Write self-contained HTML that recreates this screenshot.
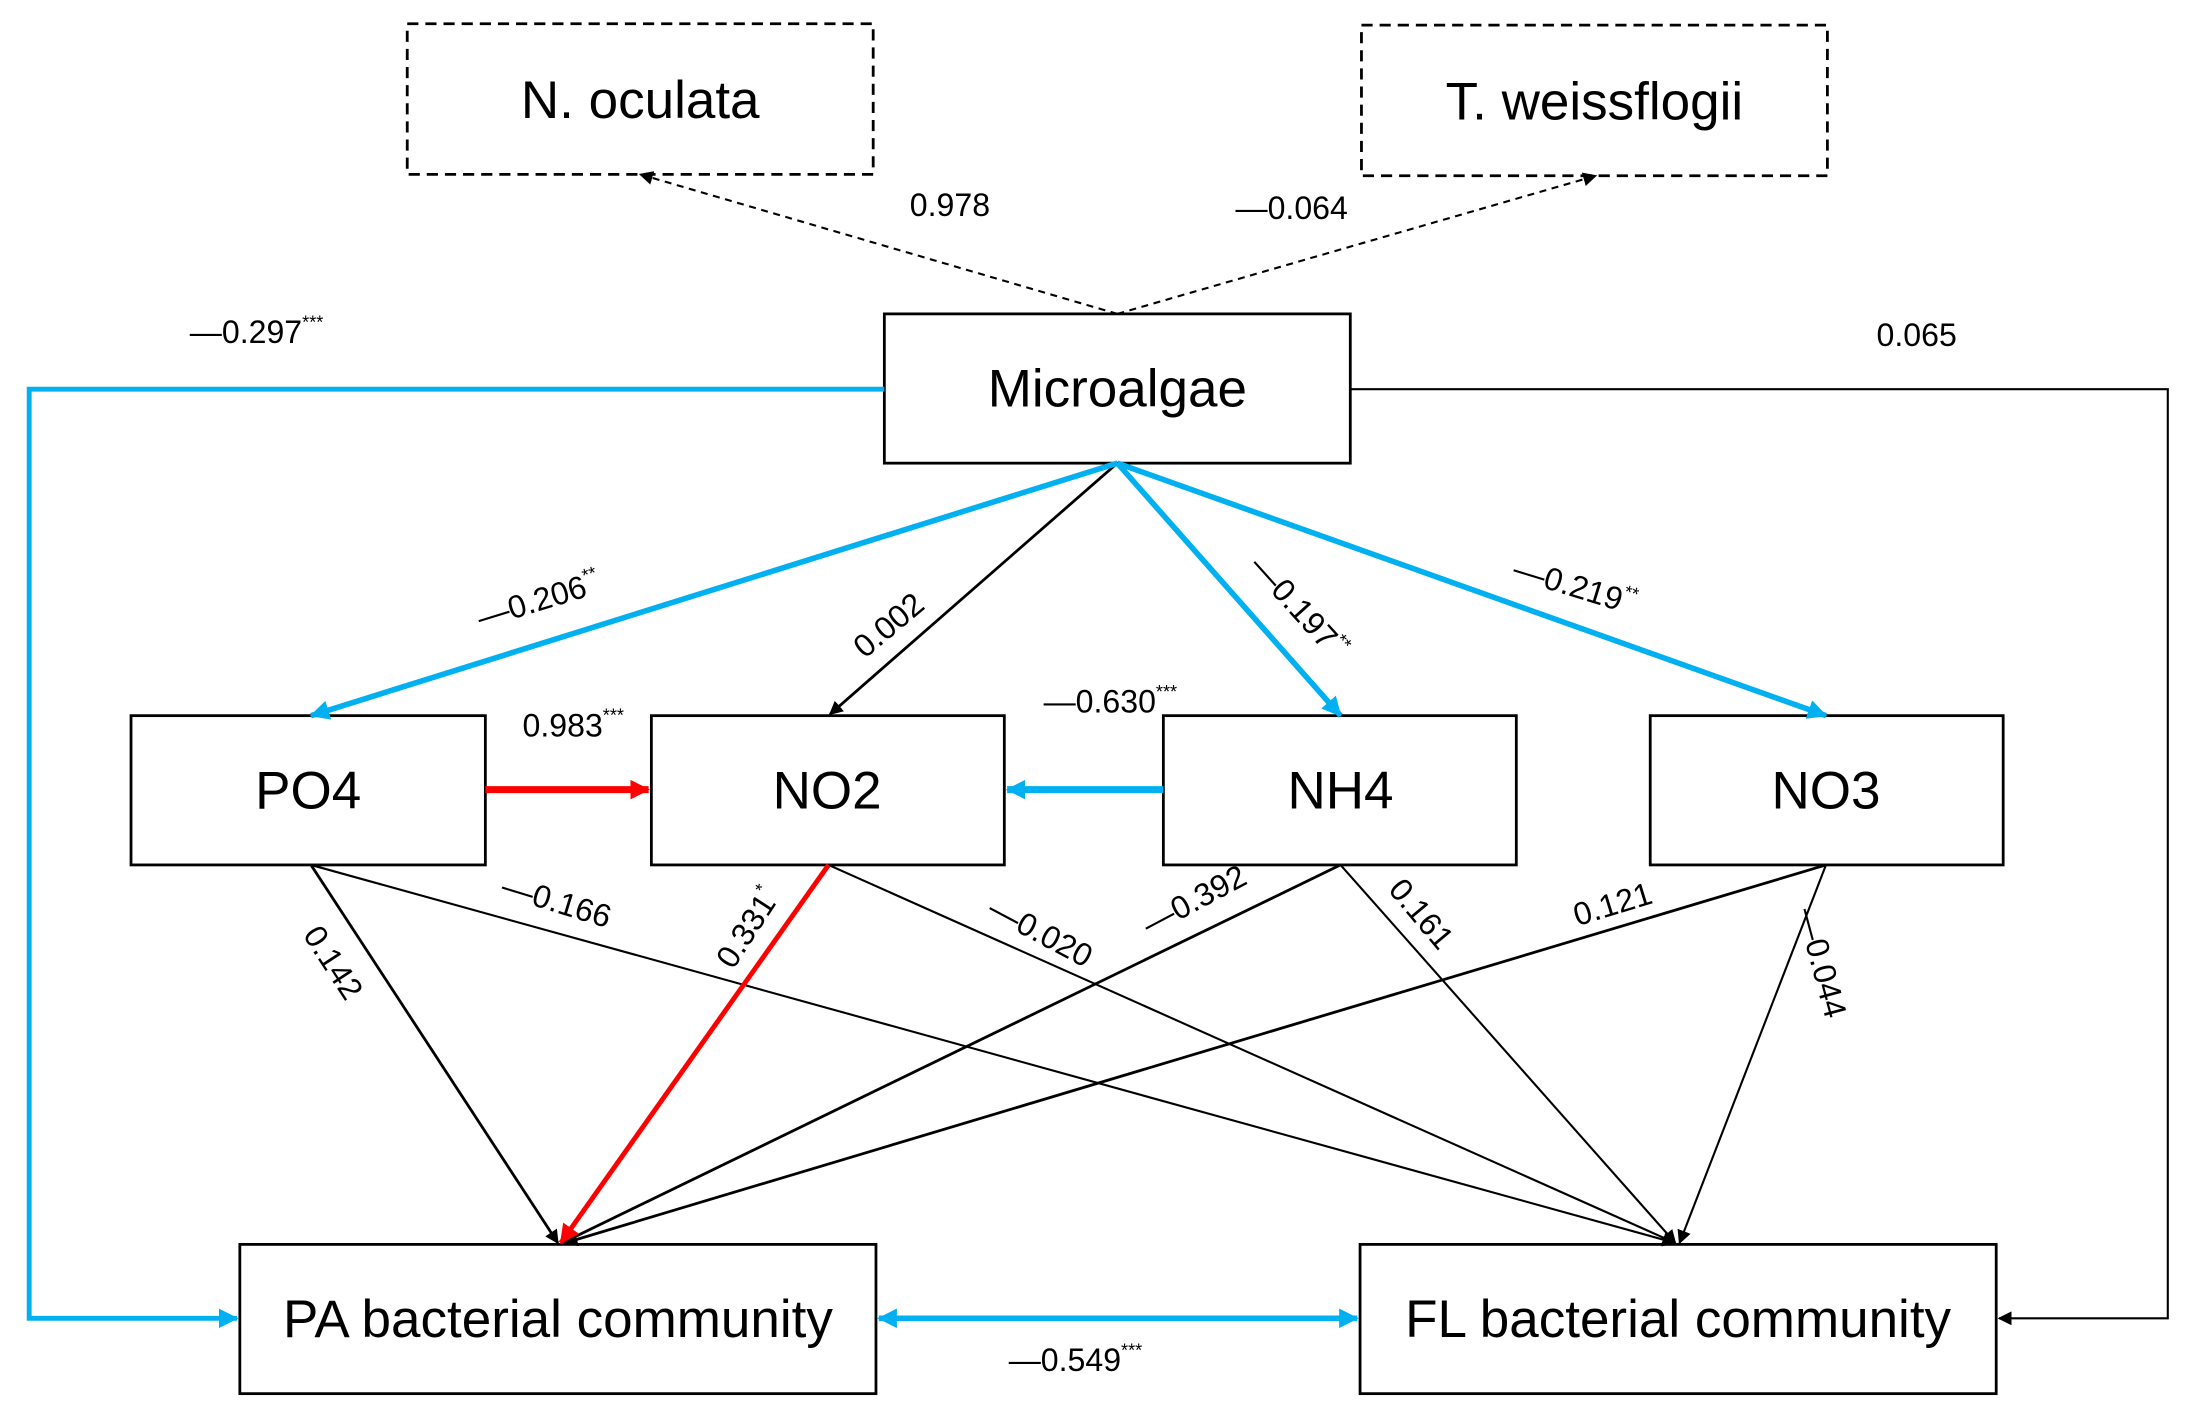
<!DOCTYPE html>
<html><head><meta charset="utf-8"><style>
html,body{margin:0;padding:0;background:#fff;}
svg{display:block;}
text{font-family:"Liberation Sans",Arial,sans-serif;fill:#000;}
.b{font-size:38px;text-anchor:middle;dominant-baseline:central;}
.l{font-size:23px;text-anchor:middle;dominant-baseline:central;}
</style></head><body>
<svg width="2190" height="1409" viewBox="0 0 1568 1010" xmlns="http://www.w3.org/2000/svg">
<defs>
<marker id="ak" markerWidth="10" markerHeight="10" refX="9" refY="5" orient="auto" markerUnits="userSpaceOnUse"><path d="M0,0 L10,5 L0,10 z" fill="#000"/></marker>
<marker id="ab" markerWidth="14" markerHeight="14" refX="13" refY="7" orient="auto" markerUnits="userSpaceOnUse"><path d="M0,0 L14,7 L0,14 z" fill="#00b0f0"/></marker>
<marker id="abs" markerWidth="14" markerHeight="14" refX="1" refY="7" orient="auto" markerUnits="userSpaceOnUse"><path d="M14,0 L0,7 L14,14 z" fill="#00b0f0"/></marker>
<marker id="ar" markerWidth="14" markerHeight="14" refX="13" refY="7" orient="auto" markerUnits="userSpaceOnUse"><path d="M0,0 L14,7 L0,14 z" fill="#ff0000"/></marker>
</defs>
<g fill="none" stroke="#000" stroke-width="2">
<rect x="291" y="17" width="334" height="108" stroke-dasharray="8,5"/>
<rect x="975" y="18" width="334" height="108" stroke-dasharray="8,5"/>
<rect x="633" y="225" width="334" height="107"/>
<rect x="93" y="513" width="254" height="107"/>
<rect x="466" y="513" width="253" height="107"/>
<rect x="833" y="513" width="253" height="107"/>
<rect x="1182" y="513" width="253" height="107"/>
<rect x="171" y="892" width="456" height="107"/>
<rect x="974" y="892" width="456" height="107"/>
</g>
<g fill="none" stroke-width="1.5" stroke="#000">
<path d="M800,225 L458,125" stroke-dasharray="5,4" marker-end="url(#ak)"/>
<path d="M800,225 L1143,126" stroke-dasharray="5,4" marker-end="url(#ak)"/>
<path d="M967,279 L1553,279 L1553,945 L1432,945" marker-end="url(#ak)"/>
<path d="M800,332 L594,512" stroke-width="2" marker-end="url(#ak)"/>
<path d="M222,620 L399,891" stroke-width="2" marker-end="url(#ak)"/>
<path d="M222,620 L1200,891" marker-end="url(#ak)"/>
<path d="M593,620 L1200,891" marker-end="url(#ak)"/>
<path d="M960,620 L402,891" stroke-width="2" marker-end="url(#ak)"/>
<path d="M960,620 L1200,891" marker-end="url(#ak)"/>
<path d="M1308,620 L404,891" stroke-width="2" marker-end="url(#ak)"/>
<path d="M1308,620 L1203,891" marker-end="url(#ak)"/>
</g>
<g fill="none" stroke="#00b0f0" stroke-width="4">
<path d="M633,279 L20,279 L20,945 L169,945" stroke-width="3.5" marker-end="url(#ab)"/>
<path d="M800,332 L222,513" marker-end="url(#ab)"/>
<path d="M800,332 L960,513" marker-end="url(#ab)"/>
<path d="M800,332 L1308,513" marker-end="url(#ab)"/>
<path d="M833,566 L721,566" stroke-width="5" marker-end="url(#ab)"/>
<path d="M629,945 L972,945" marker-start="url(#abs)" marker-end="url(#ab)"/>
</g>
<g fill="none" stroke="#ff0000" stroke-width="5">
<path d="M347,566 L464,566" marker-end="url(#ar)"/>
<path d="M593,620 L401,891" stroke-width="3.5" marker-end="url(#ar)"/>
</g>
<text class="b" x="458" y="72">N. oculata</text>
<text class="b" x="1142" y="73">T. weissflogii</text>
<text class="b" x="800" y="279">Microalgae</text>
<text class="b" x="220" y="567">PO4</text>
<text class="b" x="592" y="567">NO2</text>
<text class="b" x="960" y="567">NH4</text>
<text class="b" x="1308" y="567">NO3</text>
<text class="b" x="399" y="946">PA bacterial community</text>
<text class="b" x="1202" y="946">FL bacterial community</text>
<text class="l" x="680" y="147">0.978</text>
<text class="l" x="925" y="149">—0.064</text>
<text class="l" x="183" y="238">—0.297<tspan font-size="13" dy="-7">***</tspan></text>
<text class="l" x="1373" y="240">0.065</text>
<text class="l" x="770" y="975">—0.549<tspan font-size="13" dy="-7">***</tspan></text>
<text class="l" x="410" y="520">0.983<tspan font-size="13" dy="-7">***</tspan></text>
<text class="l" x="795" y="503">—0.630<tspan font-size="13" dy="-7">***</tspan></text>
<text class="l" transform="translate(385,430) rotate(-17)">—0.206<tspan font-size="13" dy="-7">**</tspan></text>
<text class="l" transform="translate(636,448) rotate(-40)">0.002</text>
<text class="l" transform="translate(930,435) rotate(48)">—0.197<tspan font-size="13" dy="-7">**</tspan></text>
<text class="l" transform="translate(1128,420) rotate(17)">—0.219<tspan font-size="13" dy="-7">**</tspan></text>
<text class="l" transform="translate(238,690) rotate(57)">0.142</text>
<text class="l" transform="translate(398,646) rotate(17)">—0.166</text>
<text class="l" transform="translate(535,665) rotate(-57)">0.331<tspan font-size="13" dy="-7">*</tspan></text>
<text class="l" transform="translate(745,668) rotate(28)">—0.020</text>
<text class="l" transform="translate(855,645) rotate(-28)">—0.392</text>
<text class="l" transform="translate(1018,655) rotate(50)">0.161</text>
<text class="l" transform="translate(1155,648) rotate(-17)">0.121</text>
<text class="l" transform="translate(1305,690) rotate(75)">—0.044</text>
</svg>
</body></html>
